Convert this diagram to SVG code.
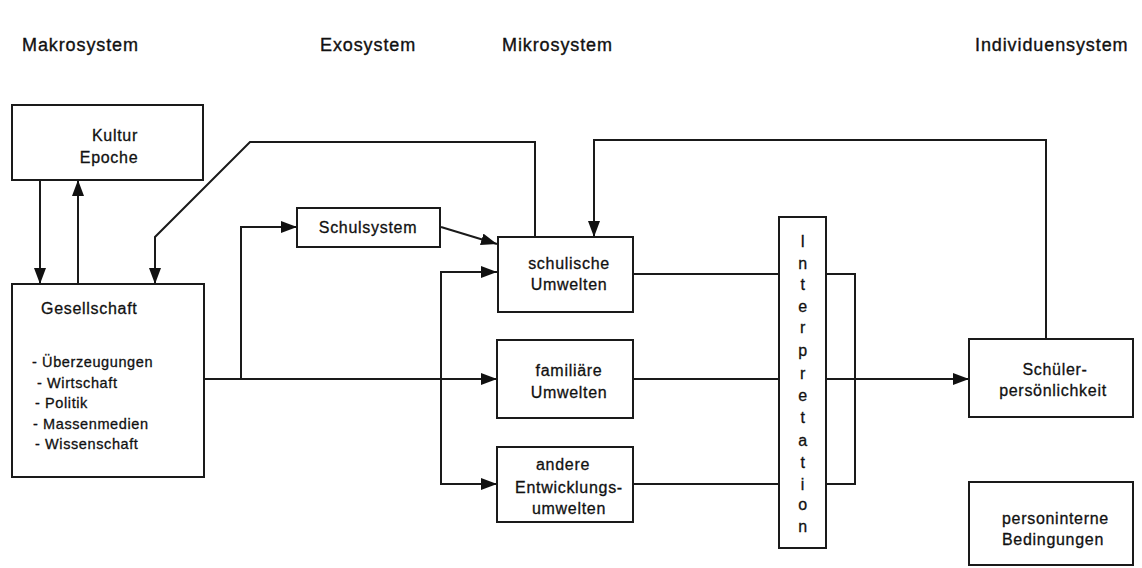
<svg xmlns="http://www.w3.org/2000/svg" width="1142" height="568" viewBox="0 0 1142 568">
<style>
.box{fill:#fff;stroke:#1a1a1a;stroke-width:2}
.ln{fill:none;stroke:#1a1a1a;stroke-width:2}
.hd{font-family:"Liberation Sans",Arial,sans-serif;font-size:18px;letter-spacing:0.9px;fill:#111;stroke:#111;stroke-width:0.35}
.t{font-family:"Liberation Sans",Arial,sans-serif;font-size:16px;letter-spacing:0.7px;fill:#111;stroke:#111;stroke-width:0.3;text-anchor:middle}
.l{font-family:"Liberation Sans",Arial,sans-serif;font-size:16px;letter-spacing:0.7px;fill:#111;stroke:#111;stroke-width:0.3}
.b{font-family:"Liberation Sans",Arial,sans-serif;font-size:14.5px;letter-spacing:0.6px;fill:#111;stroke:#111;stroke-width:0.3}
</style>
<defs>
<marker id="ah" markerUnits="userSpaceOnUse" markerWidth="16" markerHeight="12" refX="16" refY="6" orient="auto">
<path d="M0,0 L16,6 L0,12 Z" fill="#111"/>
</marker>
</defs>
<rect width="1142" height="568" fill="#fff"/>
<g id="headers">
<text class="hd" x="22" y="51">Makrosystem</text>
<text class="hd" x="320" y="51">Exosystem</text>
<text class="hd" x="502" y="51">Mikrosystem</text>
<text class="hd" x="975" y="51">Individuensystem</text>
</g>
<g id="connectors">
<line class="ln" x1="40" y1="180" x2="40" y2="284" marker-end="url(#ah)"/>
<line class="ln" x1="78" y1="284" x2="78" y2="180" marker-end="url(#ah)"/>
<polyline class="ln" points="535,237 535,142 250,142 155,237 155,284" marker-end="url(#ah)"/>
<line class="ln" x1="204" y1="379" x2="497" y2="379" marker-end="url(#ah)"/>
<polyline class="ln" points="241,379 241,227 297,227" marker-end="url(#ah)"/>
<line class="ln" x1="441" y1="227" x2="497" y2="244" marker-end="url(#ah)"/>
<polyline class="ln" points="497,484 441,484 441,272 497,272" marker-end="url(#ah)"/>
<line class="ln" x1="441" y1="484" x2="497" y2="484" marker-end="url(#ah)"/>
<line class="ln" x1="633" y1="274" x2="779" y2="274"/>
<line class="ln" x1="633" y1="379" x2="779" y2="379"/>
<line class="ln" x1="633" y1="484" x2="779" y2="484"/>
<polyline class="ln" points="826,274 855,274 855,484 826,484"/>
<line class="ln" x1="826" y1="379" x2="969" y2="379" marker-end="url(#ah)"/>
<polyline class="ln" points="1046,339 1046,140 594,140 594,237" marker-end="url(#ah)"/>
</g>
<g id="kultur">
<rect class="box" x="12" y="105" width="191" height="75"/>
<text class="t" x="115" y="141">Kultur</text>
<text class="t" x="109" y="163">Epoche</text>
</g>
<g id="gesellschaft">
<rect class="box" x="12" y="284" width="192" height="193"/>
<text class="l" x="41" y="314">Gesellschaft</text>
<text class="b" x="32" y="367">- Überzeugungen</text>
<text class="b" x="37" y="388">-  Wirtschaft</text>
<text class="b" x="35" y="408">-  Politik</text>
<text class="b" x="33" y="429">- Massenmedien</text>
<text class="b" x="35" y="449">-  Wissenschaft</text>
</g>
<g id="schulsystem">
<rect class="box" x="297" y="208" width="143" height="39"/>
<text class="t" x="368" y="233">Schulsystem</text>
</g>
<g id="schulische">
<rect class="box" x="498" y="237" width="135" height="75"/>
<text class="t" x="569" y="269">schulische</text>
<text class="t" x="569" y="290">Umwelten</text>
</g>
<g id="familiaere">
<rect class="box" x="497" y="340" width="136" height="78"/>
<text class="t" x="569" y="376">familiäre</text>
<text class="t" x="569" y="398">Umwelten</text>
</g>
<g id="andere">
<rect class="box" x="497" y="447" width="136" height="75"/>
<text class="t" x="563" y="470">andere</text>
<text class="t" x="569" y="493">Entwicklungs-</text>
<text class="t" x="569" y="514">umwelten</text>
</g>
<g id="interpretation">
<rect class="box" x="779" y="217" width="47" height="331"/>
<text class="t" x="803" y="247">I</text>
<text class="t" x="803" y="269">n</text>
<text class="t" x="803" y="290">t</text>
<text class="t" x="803" y="312">e</text>
<text class="t" x="803" y="333">r</text>
<text class="t" x="803" y="356">p</text>
<text class="t" x="803" y="379">r</text>
<text class="t" x="803" y="401">e</text>
<text class="t" x="803" y="423">t</text>
<text class="t" x="803" y="446">a</text>
<text class="t" x="803" y="468">t</text>
<text class="t" x="803" y="490">i</text>
<text class="t" x="803" y="510">o</text>
<text class="t" x="803" y="532">n</text>
</g>
<g id="schueler">
<rect class="box" x="969" y="339" width="164" height="78"/>
<text class="t" x="1055" y="375">Schüler-</text>
<text class="t" x="1053" y="396">persönlichkeit</text>
</g>
<g id="personinterne">
<rect class="box" x="969" y="482" width="164" height="83"/>
<text class="l" x="1002" y="524">personinterne</text>
<text class="l" x="1002" y="545">Bedingungen</text>
</g>
</svg>
